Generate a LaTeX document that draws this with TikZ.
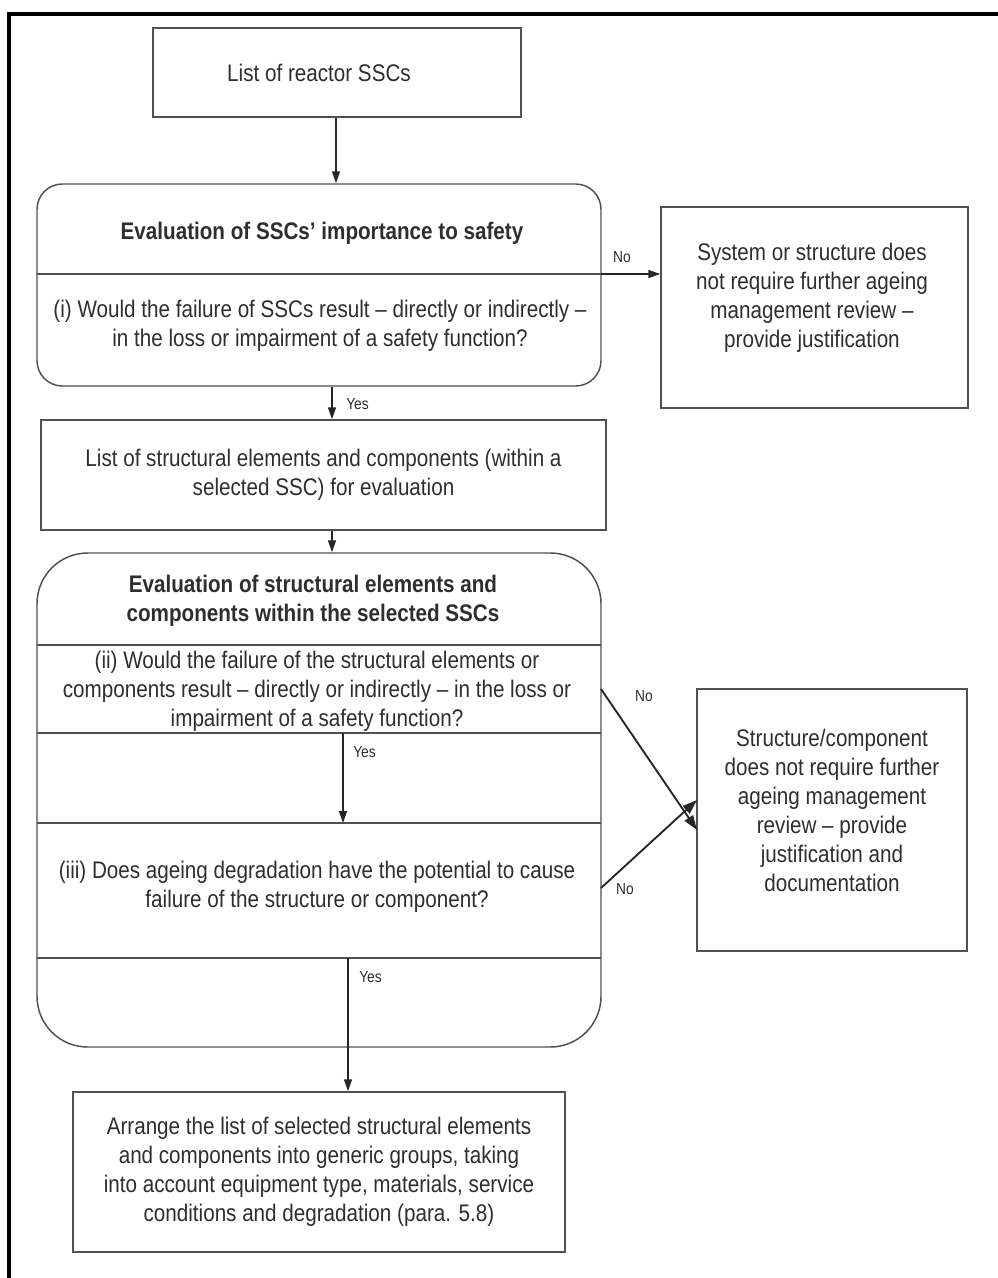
\documentclass[tikz,border=0pt]{standalone}
\usepackage{fontspec}
\setmainfont{Liberation Sans}[FakeStretch=0.86]
\usetikzlibrary{arrows.meta}
\definecolor{ink}{HTML}{2E2E2E}
\definecolor{edge}{HTML}{505050}
\begin{document}
\begin{tikzpicture}[x=0.75pt,y=-0.75pt,
  wh/.style 2 args={minimum width=#1*0.75pt, minimum height=#2*0.75pt},
  box/.style={draw=edge, line width=1.1pt, inner sep=0pt, align=center, text=ink,
              font=\fontsize{18}{21.75}\selectfont},
  txt/.style={inner sep=0pt, align=center, text=ink, font=\fontsize{18}{21.75}\selectfont},
  ttl/.style={txt, font=\fontsize{18}{21.75}\selectfont\bfseries},
  lbl/.style={inner sep=0pt, text=ink, font=\fontsize{12}{14}\selectfont},
  arr/.style={draw=black!85, line width=1.1pt, -{Triangle[length=9pt,width=6pt]}},
  diag/.style={arr, line width=1.4pt, -{Triangle[length=11pt,width=7.5pt]}},
  rule/.style={draw=edge, line width=1.1pt}]
\useasboundingbox (0,0) rectangle (998,1278);
\fill[white] (0,0) rectangle (998,1278);

% frame (top and left edges)
\draw[line width=3pt, line cap=rect] (9,1278) -- (9,14) -- (998,14);

% guide coordinates for vertical connectors
\coordinate (gx1) at (336,0);
\coordinate (gx2) at (332,0);
\coordinate (gx3) at (343,0);
\coordinate (gx4) at (348,0);

% --- top box
\node[box, wh={368}{89}] (list) at (337,72.5) {};
\node[txt] (listt) at (319,73) {List of reactor SSCs};

% --- evaluation of importance to safety
\node[box, wh={564}{202}, rounded corners=19pt] (evalA) at (319,285) {};
\node[ttl] (evalAt) at (322,233) {Evaluation of SSCs’ importance to safety};
\coordinate (dAl) at (37,274);
\coordinate (dAr) at (601,274);
\draw[rule] (dAl) -- (dAr);
\node[txt] (qi) at (320,326) {(i) Would the failure of SSCs result – directly or indirectly –\\
  in the loss or impairment of a safety function?};

% --- no further review (system level)
\node[box, wh={307}{201}] (noA) at (814.5,307.5) {};
\node[txt] (noAt) at (812,298) {System or structure does\\ not require further ageing\\
  management review –\\ provide justification};

% --- list of structural elements
\node[box, wh={565}{110}] (elems) at (323.5,475) {List of structural elements and components (within a\\
  selected SSC) for evaluation};

% --- evaluation of structural elements
\node[box, wh={564}{494}, rounded corners=38pt] (evalD) at (319,800) {};
\node[ttl] (evalDt) at (313,601) {Evaluation of structural elements and\\ components within the selected SSCs};
\foreach \yy/\nm in {645/d1, 733/d2, 823/d3, 958/d4}{
  \coordinate (\nm l) at (37,\yy);
  \coordinate (\nm r) at (601,\yy);
  \draw[rule] (\nm l) -- (\nm r);
}
\node[txt] (qii) at (317,691) {(ii) Would the failure of the structural elements or\\
  components result – directly or indirectly – in the loss or\\ impairment of a safety function?};
\node[txt] (qiii) at (317,886.5) {(iii) Does ageing degradation have the potential to cause\\
  failure of the structure or component?};

% --- no further review (component level)
\node[box, wh={270}{262}] (noD) at (832,820) {};
\node[txt] (noDt) at (832,810.5) {Structure/component\\ does not require further\\ ageing management\\
  review – provide\\ justification and\\ documentation};

% --- grouping box
\node[box, wh={492}{160}] (group) at (319,1172) {Arrange the list of selected structural elements\\
  and components into generic groups, taking\\ into account equipment type, materials, service\\
  conditions and degradation (para. 5.8)};

% --- connectors
\draw[arr] (list.south -| gx1) -- (evalA.north -| gx1);
\draw[arr] (dAr) -- (noA.west |- dAr);
\node[lbl] (noA1) at (622,257) {No};
\draw[arr] (evalA.south -| gx2) -- (elems.north -| gx2);
\node[lbl, anchor=west] (yes1) at (346,404) {Yes};
\draw[arr] (elems.south -| gx2) -- (evalD.north -| gx2);
\draw[arr] (d2l -| gx3) -- (d3l -| gx3);
\node[lbl, anchor=west] (yes2) at (353,752) {Yes};
\coordinate (o2) at (601,689);
\coordinate (o3) at (601,888);
\coordinate (t2) at (697,830);
\coordinate (t3) at (697,800);
\draw[diag] (o2) -- (t2);
\node[lbl] (no2) at (644,696) {No};
\draw[diag] (o3) -- (t3);
\node[lbl] (no3) at (625,889) {No};
\draw[arr] (d4l -| gx4) -- (group.north -| gx4);
\node[lbl, anchor=west] (yes3) at (359,977) {Yes};
\end{tikzpicture}
\end{document}
